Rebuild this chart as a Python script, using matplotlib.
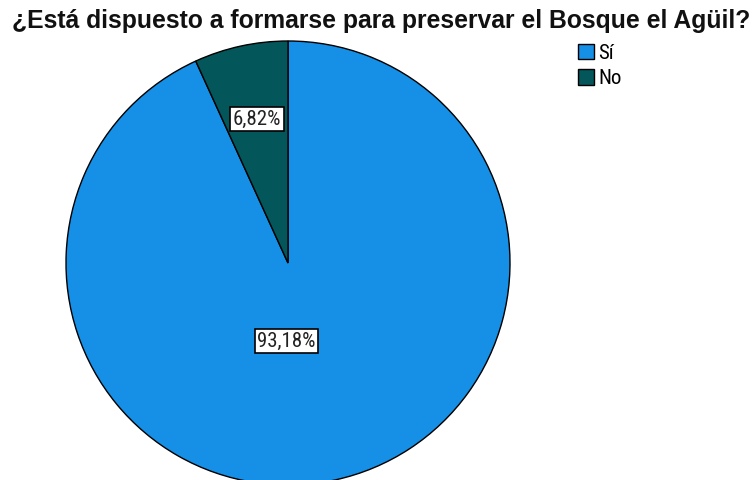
import matplotlib
matplotlib.use("Agg")
import matplotlib.pyplot as plt

categories = ["Sí", "No"]
values = [93.18, 6.82]
labels = ["93,18%", "6,82%"]
colors = ["#1590e6", "#03575a"]

plt.rcParams['font.family'] = ['Liberation Sans', 'DejaVu Sans']
cond = ['Roboto Condensed', 'Liberation Sans', 'DejaVu Sans']

W, H = 754, 480
fig = plt.figure(figsize=(W / 100, H / 100), dpi=100)
ax = fig.add_axes([0, 0, 1, 1])

cx, cy, r = 288, H - 263, 222
wedges, _ = ax.pie(values, colors=colors, startangle=90, counterclock=False,
                   center=(cx, cy), radius=r, frame=True,
                   wedgeprops=dict(edgecolor="black", linewidth=1.0))
ax.set_xlim(0, W)
ax.set_ylim(0, H)
ax.set_aspect("equal")
ax.axis("off")

box = dict(boxstyle="square,pad=0.13", facecolor="white", edgecolor="black", linewidth=1.2)
ax.text(286.5, H - 341, labels[0], ha="center", va="center", fontsize=15, family=cond,
        bbox=box, color="#222222")
ax.text(257, H - 119, labels[1], ha="center", va="center", fontsize=15, family=cond,
        bbox=box, color="#222222")

fig.text(381 / W, 1 - 21 / H, "¿Está dispuesto a formarse para preservar el Bosque el Agüil?",
         ha="center", va="center", fontsize=17.8, fontweight="bold", color="#111111")

leg = fig.legend(wedges, categories, loc="upper left", bbox_to_anchor=(563 / W, 1 - 29 / H),
                 frameon=False, prop=dict(family=cond, size=15), handlelength=0.78,
                 handleheight=0.78, handletextpad=0.2, labelspacing=0.3, borderpad=0.2)

fig.savefig("out.png", dpi=100)
